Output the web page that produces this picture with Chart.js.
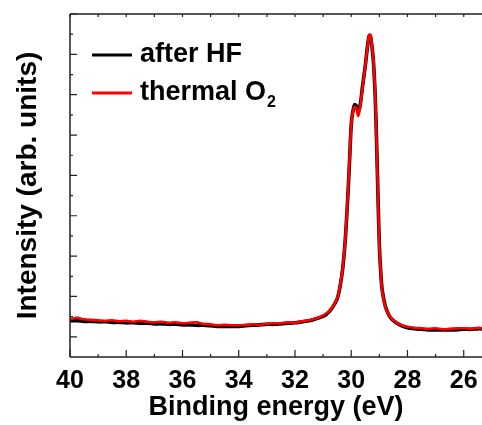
<!DOCTYPE html>
<html>
<head>
<meta charset="utf-8">
<script src="https://cdn.jsdelivr.net/npm/chart.js@4/dist/chart.umd.min.js"></script>
<style>
html,body{margin:0;padding:0;background:#fff;}
#wrap{width:482px;height:425px;position:relative;}
</style>
</head>
<body>
<div id="wrap"><canvas id="c" width="482" height="425"></canvas></div>
<script>
// Binding energy (eV)
const energies = [40.00,39.75,39.50,39.25,39.00,38.75,38.50,38.25,38.00,37.75,37.50,37.25,37.00,36.75,36.50,36.25,36.00,35.75,35.50,35.25,35.00,34.75,34.50,34.25,34.00,33.75,33.50,33.25,33.00,32.75,32.50,32.25,32.00,31.75,31.50,31.30,31.10,30.90,30.70,30.50,30.40,30.30,30.20,30.10,30.05,30.00,29.95,29.88,29.82,29.75,29.68,29.60,29.50,29.42,29.36,29.32,29.27,29.21,29.15,29.10,29.05,29.00,28.95,28.90,28.80,28.70,28.60,28.40,28.20,28.00,27.75,27.50,27.25,27.00,26.75,26.50,26.25,26.00,25.75,25.50,25.35];
// Intensity (arb. units)
const afterHF = [397,397,384,384,372,372,359,359,347,347,335,335,322,322,310,310,297,297,285,285,273,260,260,260,260,273,285,297,310,310,322,335,347,372,397,434,483,545,694,942,1239,1710,2528,3767,4511,5254,5551,5750,5725,5576,5750,6196,6716,7212,7460,7460,7237,6815,5998,4882,3519,2280,1586,1165,793,595,471,347,273,223,198,186,173,173,173,173,173,186,186,198,198];
const thermalO2 = [434,471,434,421,409,397,409,384,397,372,397,372,359,372,347,359,335,347,359,322,310,285,297,285,285,297,310,297,322,335,335,359,347,384,409,446,496,570,706,954,1264,1735,2553,3792,4535,5254,5527,5700,5651,5477,5700,6171,6716,7212,7484,7484,7261,6840,6022,4882,3494,2255,1561,1140,768,595,483,359,285,248,223,211,198,211,186,198,211,211,198,223,211];
const seriesLabels = ["after HF", "thermal O"];
const seriesSub = ["", "2"];
const seriesColors = ["#000000", "#ff0000"];
const xTickValues = [40,38,36,34,32,30,28,26];
const xMinorValues = [39,37,35,33,31,29,27];
const yMajorValues = [0,1000,2000,3000,4000,5000,6000,7000,8000];
const yMinorValues = [500,1500,2500,3500,4500,5500,6500,7500];
const xTitle = "Binding energy (eV)";
const yTitle = "Intensity (arb. units)";

const FONT = "'Liberation Sans', Arial, Helvetica, sans-serif";

const framePlugin = {
  id: 'frame',
  afterDatasetsDraw(chart) {
    const {ctx, chartArea: a, scales: {x, y}} = chart;
    ctx.save();
    ctx.strokeStyle = '#222';
    ctx.lineWidth = 1.5;
    ctx.beginPath();
    ctx.moveTo(a.left, a.top); ctx.lineTo(a.right + 2, a.top);
    ctx.moveTo(a.left, a.top); ctx.lineTo(a.left, a.bottom);
    ctx.moveTo(a.left, a.bottom); ctx.lineTo(a.right + 2, a.bottom);
    ctx.stroke();
    ctx.lineWidth = 1.2;
    ctx.beginPath();
    xTickValues.forEach(v => { const px = x.getPixelForValue(v); ctx.moveTo(px, a.bottom); ctx.lineTo(px, a.bottom - 7); ctx.moveTo(px, a.top); ctx.lineTo(px, a.top + 3); });
    xMinorValues.forEach(v => { const px = x.getPixelForValue(v); ctx.moveTo(px, a.bottom); ctx.lineTo(px, a.bottom - 3); ctx.moveTo(px, a.top); ctx.lineTo(px, a.top + 3); });
    yMajorValues.forEach(v => { const py = y.getPixelForValue(v); ctx.moveTo(a.left, py); ctx.lineTo(a.left + 7, py); });
    yMinorValues.forEach(v => { const py = y.getPixelForValue(v); ctx.moveTo(a.left, py); ctx.lineTo(a.left + 3, py); });
    ctx.stroke();
    // legend
    const ds = chart.data.datasets;
    const rows = [55, 93];
    ds.forEach((d, i) => {
      const yy = rows[i];
      ctx.strokeStyle = d.borderColor;
      ctx.lineWidth = 3;
      ctx.beginPath(); ctx.moveTo(92, yy); ctx.lineTo(132, yy); ctx.stroke();
      ctx.fillStyle = '#000';
      ctx.font = 'bold 27px ' + FONT;
      ctx.textBaseline = 'middle';
      ctx.textAlign = 'left';
      ctx.fillText(d.label, 140, yy);
      if (seriesSub[i]) {
        const w = ctx.measureText(d.label).width;
        ctx.font = 'bold 16px ' + FONT;
        ctx.fillText(seriesSub[i], 140 + w + 1, yy + 10);
      }
    });
    ctx.restore();
  }
};

const toPts = arr => energies.map((e, i) => ({x: e, y: arr[i]}));

new Chart(document.getElementById('c'), {
  type: 'line',
  data: {
    datasets: [
      {label: seriesLabels[0], data: toPts(afterHF), borderColor: seriesColors[0], borderWidth: 3.6, pointRadius: 0, tension: 0.3, order: 2},
      {label: seriesLabels[1], data: toPts(thermalO2), borderColor: seriesColors[1], borderWidth: 2.6, pointRadius: 0, tension: 0.3, order: 1}
    ]
  },
  options: {
    responsive: false,
    animation: false,
    layout: {padding: {left: 0, right: 0, top: 14, bottom: 0}},
    plugins: {legend: {display: false}, tooltip: {enabled: false}},
    scales: {
      x: {
        type: 'linear', reverse: true, min: 25.35, max: 40,
        afterBuildTicks: s => { s.ticks = xTickValues.map(v => ({value: v})); },
        afterFit: s => { s.height = 68; },
        grid: {display: false}, border: {display: false},
        ticks: {color: '#000', font: {family: FONT, size: 25, weight: 'bold'}, padding: 1, maxRotation: 0, autoSkip: false},
        title: {display: true, text: xTitle, color: '#000', font: {family: FONT, size: 27, weight: 'bold'}, padding: {top: 0, bottom: 1}}
      },
      y: {
        type: 'linear', min: -500, max: 8000,
        afterBuildTicks: s => { s.ticks = yMajorValues.map(v => ({value: v})); },
        afterFit: s => { s.width = 70; },
        grid: {display: false}, border: {display: false},
        ticks: {display: false},
        title: {display: true, text: yTitle, color: '#000', font: {family: FONT, size: 28, weight: 'bold'}, padding: {top: 11, bottom: 0}}
      }
    }
  },
  plugins: [framePlugin]
});
</script>
</body>
</html>
